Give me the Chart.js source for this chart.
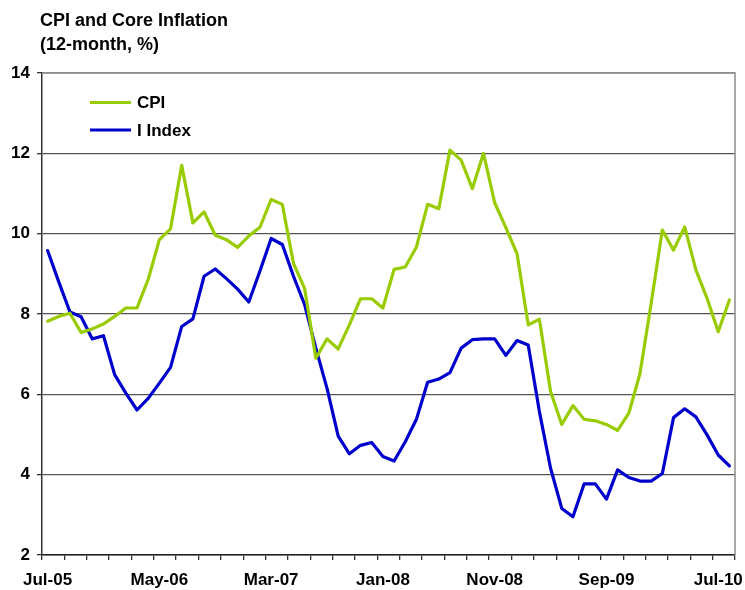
<!DOCTYPE html>
<html>
<head>
<meta charset="utf-8">
<script src="https://cdn.jsdelivr.net/npm/chart.js@4.4.0/dist/chart.umd.min.js"></script>
<style>
html,body{margin:0;padding:0;background:#fff;}
#wrap{width:745px;height:590px;position:relative;}
</style>
</head>
<body>
<div id="wrap"><canvas id="c" width="745" height="590"></canvas></div>
<script>
// ---- DATA ----
const titleLines = ["CPI and Core Inflation", "(12-month, %)"];
const months = [
  "Jul-05","Aug-05","Sep-05","Oct-05","Nov-05","Dec-05",
  "Jan-06","Feb-06","Mar-06","Apr-06","May-06","Jun-06","Jul-06","Aug-06","Sep-06","Oct-06","Nov-06","Dec-06",
  "Jan-07","Feb-07","Mar-07","Apr-07","May-07","Jun-07","Jul-07","Aug-07","Sep-07","Oct-07","Nov-07","Dec-07",
  "Jan-08","Feb-08","Mar-08","Apr-08","May-08","Jun-08","Jul-08","Aug-08","Sep-08","Oct-08","Nov-08","Dec-08",
  "Jan-09","Feb-09","Mar-09","Apr-09","May-09","Jun-09","Jul-09","Aug-09","Sep-09","Oct-09","Nov-09","Dec-09",
  "Jan-10","Feb-10","Mar-10","Apr-10","May-10","Jun-10","Jul-10","Aug-10"
];
const xTickLabels = ["Jul-05","May-06","Mar-07","Jan-08","Nov-08","Sep-09","Jul-10"];
const yTicks = [2, 4, 6, 8, 10, 12, 14];
const seriesNames = ["CPI", "I Index"];
const cpi = [
  7.82,7.94,8.02,7.54,7.63,7.75,7.94,8.15,8.15,8.86,
  9.85,10.12,11.70,10.27,10.54,9.96,9.85,9.66,9.94,10.16,
  10.85,10.73,9.26,8.63,6.90,7.38,7.13,7.73,8.38,8.38,
  8.15,9.11,9.17,9.67,10.73,10.62,12.08,11.83,11.12,12.00,
  10.77,10.15,9.50,7.73,7.87,6.07,5.25,5.72,5.38,5.34,
  5.25,5.10,5.53,6.52,8.27,10.09,9.59,10.17,9.10,8.39,
  7.56,8.35
];
const coreIndex = [
  9.58,8.80,8.05,7.93,7.38,7.46,6.49,6.03,5.61,5.90,
  6.28,6.67,7.69,7.88,8.94,9.12,8.88,8.62,8.30,9.07,
  9.88,9.73,8.94,8.23,7.15,6.15,4.96,4.52,4.73,4.80,
  4.45,4.34,4.82,5.38,6.30,6.38,6.54,7.15,7.36,7.38,
  7.38,6.97,7.34,7.23,5.57,4.16,3.16,2.95,3.77,3.77,
  3.39,4.12,3.93,3.84,3.84,4.03,5.42,5.64,5.44,4.99,
  4.49,4.22
];

// ---- STYLE ----
const FONT = '"Liberation Sans", Arial, Helvetica, sans-serif';
const GREEN = '#99cc00';
const BLUE = '#0000cc';

const toPts = arr => arr.map((v, i) => ({ x: i, y: v }));

const decor = {
  id: 'decor',
  beforeDatasetsDraw(chart) {
    const { ctx, chartArea: a } = chart;
    ctx.save();
    ctx.strokeStyle = '#8c8c8c';
    ctx.lineWidth = 1.5;
    ctx.beginPath();
    ctx.moveTo(a.left, a.top);
    ctx.lineTo(a.right, a.top);
    ctx.lineTo(a.right, a.bottom);
    ctx.stroke();
    ctx.restore();
  },
  afterDraw(chart) {
    const { ctx } = chart;
    ctx.save();
    ctx.fillStyle = '#000';
    ctx.textAlign = 'left';
    ctx.textBaseline = 'alphabetic';
    ctx.font = 'bold 18px ' + FONT;
    ctx.fillText(titleLines[0], 40, 25.5);
    ctx.fillText(titleLines[1], 40, 50);
    // legend
    const cols = [GREEN, BLUE];
    const ys = [102.5, 130];
    ctx.font = 'bold 17px ' + FONT;
    ctx.textBaseline = 'middle';
    for (let k = 0; k < 2; k++) {
      ctx.strokeStyle = cols[k];
      ctx.lineWidth = 3;
      ctx.beginPath();
      ctx.moveTo(90, ys[k]);
      ctx.lineTo(131, ys[k]);
      ctx.stroke();
      ctx.fillText(seriesNames[k], 137, ys[k] + 1);
    }
    ctx.restore();
  }
};

new Chart(document.getElementById('c'), {
  type: 'line',
  data: {
    datasets: [
      { label: seriesNames[0], data: toPts(cpi), borderColor: GREEN, borderWidth: 3.2, pointRadius: 0, tension: 0, borderJoinStyle: 'round', borderCapStyle: 'round' },
      { label: seriesNames[1], data: toPts(coreIndex), borderColor: BLUE, borderWidth: 3.2, pointRadius: 0, tension: 0, borderJoinStyle: 'round', borderCapStyle: 'round' }
    ]
  },
  options: {
    responsive: false,
    devicePixelRatio: 1,
    animation: false,
    layout: { padding: { top: 73, right: 9, left: 0, bottom: 0 } },
    plugins: { legend: { display: false }, title: { display: false }, tooltip: { enabled: false } },
    scales: {
      x: {
        type: 'linear',
        min: -0.5,
        max: months.length - 0.5,
        afterBuildTicks(scale) {
          const t = [];
          for (let v = -0.5; v <= months.length - 0.5 + 1e-9; v += 2) t.push({ value: v });
          scale.ticks = t;
        },
        afterFit(scale) { scale.height = 35; },
        ticks: {
          autoSkip: false,
          maxRotation: 0,
          minRotation: 0,
          labelOffset: 5.6,
          padding: 10,
          color: '#000',
          font: { family: FONT, size: 17, weight: 'bold' },
          callback(value) {
            const i = Math.round(value + 0.5);
            const name = months[i];
            return xTickLabels.includes(name) ? name : '';
          }
        },
        grid: { display: true, drawOnChartArea: false, drawTicks: true, tickLength: 5, tickColor: '#333', lineWidth: 1.3 },
        border: { display: true, color: '#222', width: 1.5 }
      },
      y: {
        min: yTicks[0],
        max: yTicks[yTicks.length - 1],
        afterBuildTicks(scale) { scale.ticks = yTicks.map(v => ({ value: v })); },
        afterFit(scale) { scale.width = 42; },
        ticks: {
          padding: 7,
          color: '#000',
          font: { family: FONT, size: 17, weight: 'bold' }
        },
        grid: {
          color: ctx => (ctx.tick && ctx.tick.value === 14) ? '#8c8c8c' : '#555',
          lineWidth: 1.3,
          drawTicks: true,
          tickLength: 5,
          tickColor: '#333'
        },
        border: { display: true, color: '#333', width: 1.5 }
      }
    }
  },
  plugins: [decor]
});
</script>
</body>
</html>
